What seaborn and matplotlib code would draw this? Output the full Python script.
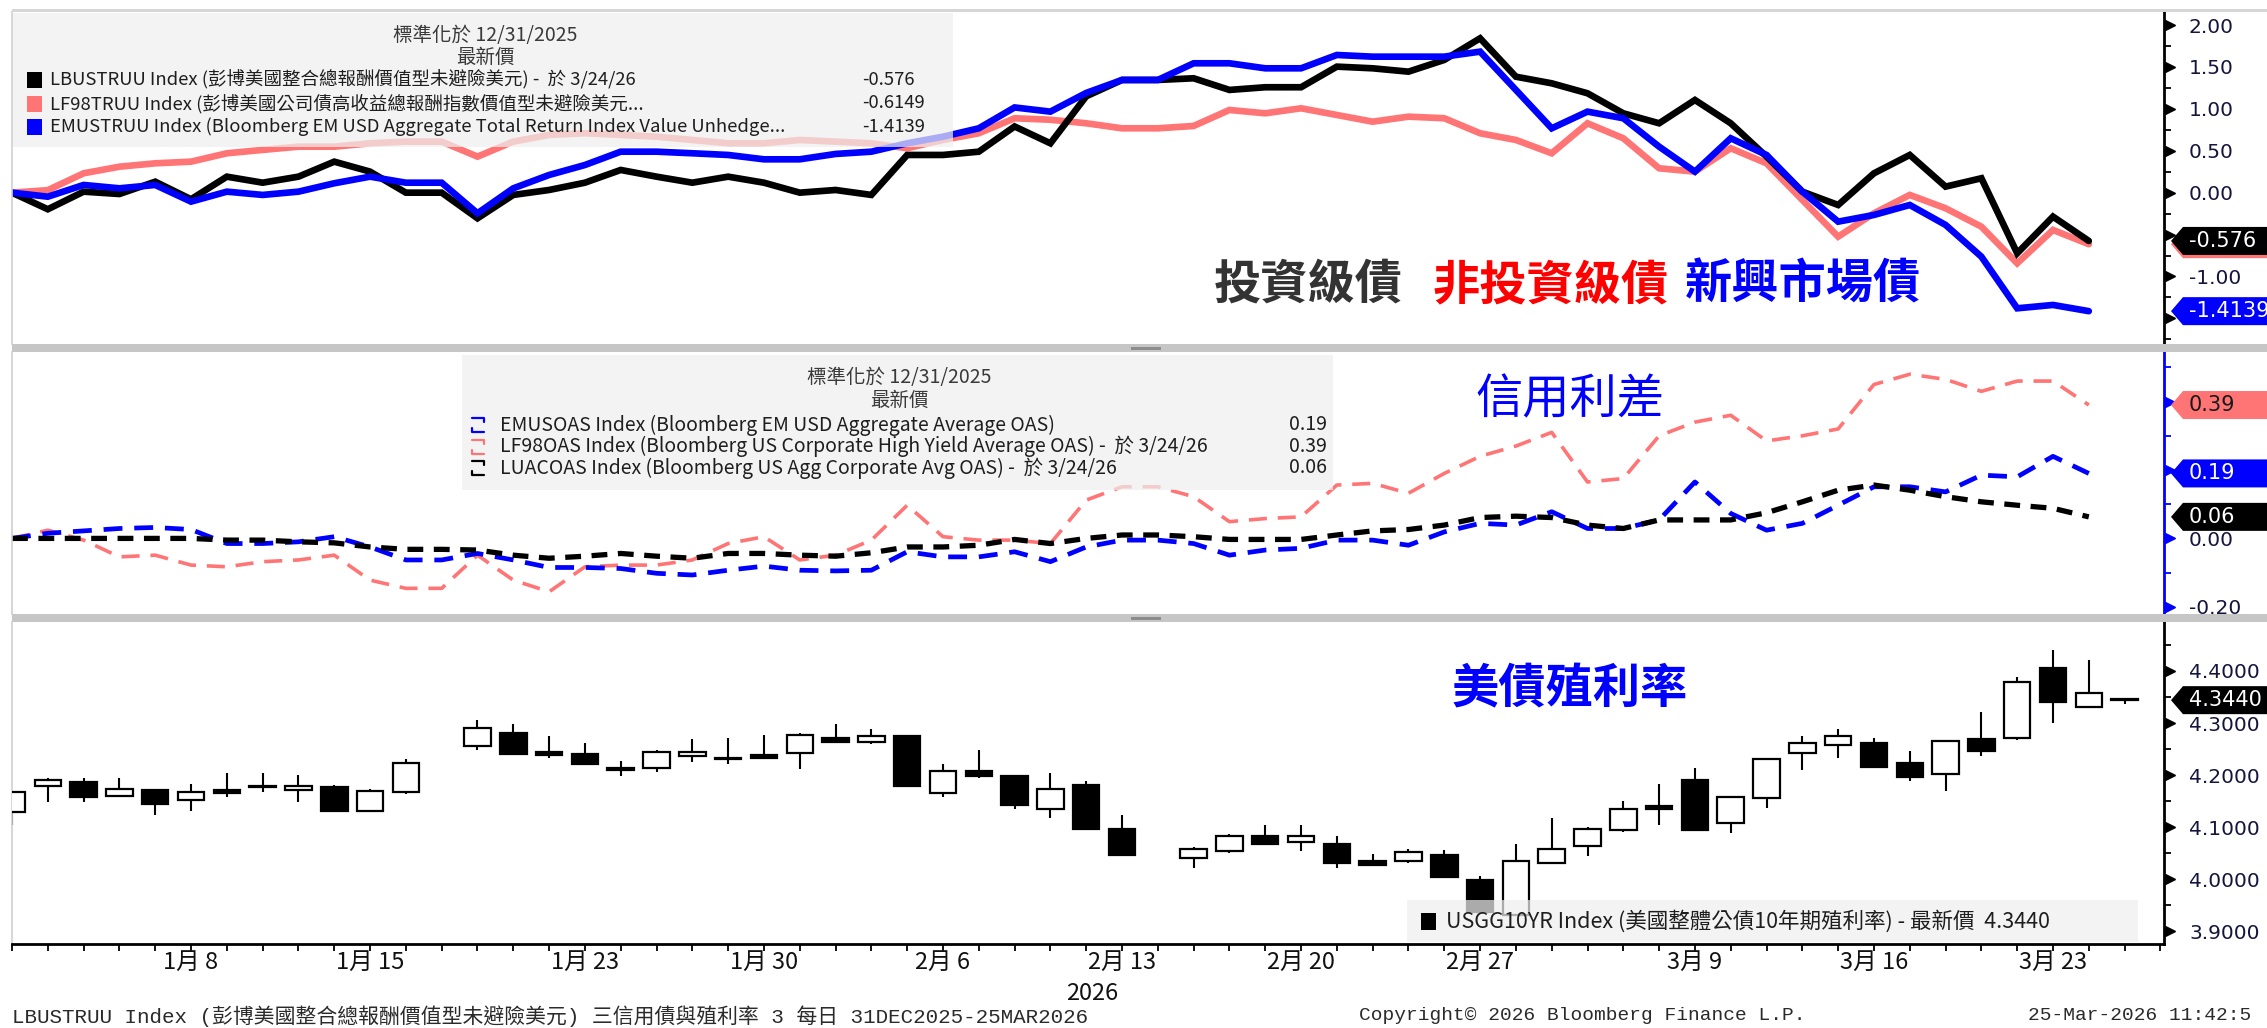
import numpy as np
import pandas as pd
import matplotlib
matplotlib.use('Agg')
import matplotlib.pyplot as plt
from matplotlib.patches import Rectangle, Polygon
from matplotlib.lines import Line2D
from matplotlib.ticker import MultipleLocator
import seaborn as sns

# 交易日序號：0 = 2025/12/31 ... 58 = 2026/3/24, 59 = 2026/3/25（假日 12、32 保留空位）
nan = np.nan

# 上圖：總報酬指數（標準化於 12/31/2025）
lbustruu = [0.0, -0.198, 0.012, -0.016, 0.131, -0.079, 0.191, 0.119, 0.191, 0.370,
            0.251, 0.0, 0.0, -0.306, -0.027, 0.032, 0.119, 0.271, 0.191, 0.119,
            0.191, 0.119, 0.0, 0.032, -0.027, 0.450, 0.450, 0.489, 0.79, 0.589,
            1.15, 1.345, 1.345, 1.365, 1.226, 1.258, 1.258, 1.504, 1.484, 1.444,
            1.584, 1.842, 1.384, 1.305, 1.186, 0.947, 0.828, 1.106, 0.828, 0.430,
            0.012, -0.147, 0.231, 0.450, 0.072, 0.172, -0.723, -0.286, -0.576]
lf98truu = [0.0, 0.03, 0.231, 0.310, 0.350, 0.370, 0.470, 0.510, 0.549, 0.549,
            0.589, 0.609, 0.609, 0.430, 0.609, 0.689, 0.709, 0.689, 0.668, 0.629,
            0.589, 0.589, 0.629, 0.609, 0.589, 0.530, 0.629, 0.709, 0.888, 0.87,
            0.828, 0.768, 0.768, 0.796, 0.987, 0.947, 1.007, 0.927, 0.847, 0.907,
            0.888, 0.709, 0.629, 0.470, 0.828, 0.649, 0.291, 0.251, 0.530, 0.350,
            -0.087, -0.525, -0.246, -0.027, -0.186, -0.406, -0.843, -0.445, -0.6149]
emustruu = [0.0, -0.048, 0.092, 0.052, 0.092, -0.107, 0.012, -0.027, 0.012, 0.112,
            0.191, 0.119, 0.119, -0.246, 0.052, 0.211, 0.330, 0.489, 0.489, 0.470,
            0.450, 0.398, 0.398, 0.462, 0.489, 0.589, 0.668, 0.768, 1.017, 0.967,
            1.19, 1.345, 1.345, 1.544, 1.544, 1.484, 1.484, 1.643, 1.623, 1.623,
            1.623, 1.683, 1.226, 0.768, 0.967, 0.888, 0.549, 0.251, 0.649, 0.450,
            0.012, -0.346, -0.266, -0.147, -0.385, -0.764, -1.380, -1.340, -1.4139]

# 中圖：OAS 利差（標準化於 12/31/2025）
emusoas = [0.0, 0.015, 0.022, 0.029, 0.032, 0.026, -0.015, -0.015, -0.010, 0.005,
           -0.025, -0.063, -0.063, -0.044, -0.063, -0.085, -0.085, -0.088, -0.102, -0.107,
           -0.093, -0.081, -0.093, -0.095, -0.093, -0.039, -0.054, -0.054, -0.039, -0.068,
           -0.025, -0.005, -0.005, -0.015, -0.049, -0.034, -0.029, -0.005, -0.005, -0.020,
           0.019, 0.044, 0.039, 0.078, 0.029, 0.029, 0.054, 0.165, 0.073, 0.024,
           0.044, 0.097, 0.151, 0.151, 0.136, 0.185, 0.180, 0.240, 0.19]
lf98oas = [0.0, 0.024, -0.005, -0.054, -0.049, -0.078, -0.083, -0.068, -0.063, -0.049,
           -0.122, -0.146, -0.146, -0.049, -0.122, -0.156, -0.083, -0.078, -0.078, -0.063,
           -0.015, 0.005, -0.063, -0.049, -0.005, 0.097, 0.005, -0.005, -0.005, -0.015,
           0.112, 0.151, 0.151, 0.122, 0.049, 0.058, 0.063, 0.156, 0.161, 0.132,
           0.190, 0.24, 0.27, 0.31, 0.165, 0.175, 0.30, 0.34, 0.36, 0.285,
           0.30, 0.32, 0.45, 0.48, 0.465, 0.43, 0.46, 0.46, 0.39]
luacoas = [0.0, 0.0, 0.0, 0.0, 0.0, 0.0, -0.005, -0.005, -0.010, -0.013,
           -0.025, -0.032, -0.032, -0.034, -0.049, -0.058, -0.052, -0.044, -0.052, -0.058,
           -0.044, -0.044, -0.049, -0.052, -0.042, -0.025, -0.025, -0.020, -0.003, -0.015,
           0.000, 0.010, 0.010, 0.005, -0.003, -0.003, -0.003, 0.010, 0.022, 0.026,
           0.039, 0.061, 0.065, 0.061, 0.039, 0.029, 0.054, 0.054, 0.054, 0.075,
           0.107, 0.141, 0.156, 0.141, 0.122, 0.107, 0.097, 0.088, 0.063]

# 下圖：美國 10 年期公債殖利率 日 K 線
y_open = [4.129, 4.180, 4.187, 4.160, 4.171, 4.152, 4.171, 4.177, 4.172, 4.178,
          4.132, 4.168, nan, 4.256, 4.281, 4.245, 4.241, 4.214, 4.213, 4.237,
          4.232, 4.238, 4.243, 4.272, 4.264, 4.275, 4.166, 4.208, 4.198, 4.135,
          4.181, 4.097, nan, 4.041, 4.054, 4.083, 4.072, 4.067, 4.036, 4.035,
          4.046, 3.999, 3.932, 4.031, 4.065, 4.094, 4.140, 4.190, 4.108, 4.156,
          4.243, 4.257, 4.261, 4.224, 4.203, 4.269, 4.271, 4.406, 4.331, 4.347]
y_high = [4.170, 4.195, 4.195, 4.195, 4.172, 4.184, 4.204, 4.204, 4.201, 4.181,
          4.174, 4.232, nan, 4.306, 4.299, 4.275, 4.261, 4.228, 4.249, 4.269,
          4.272, 4.278, 4.281, 4.299, 4.289, 4.278, 4.222, 4.249, 4.200, 4.204,
          4.188, 4.124, nan, 4.063, 4.087, 4.104, 4.104, 4.083, 4.049, 4.059,
          4.056, 4.006, 4.068, 4.118, 4.100, 4.150, 4.184, 4.214, 4.158, 4.232,
          4.275, 4.288, 4.271, 4.247, 4.268, 4.322, 4.388, 4.440, 4.422, 4.347]
y_low = [4.105, 4.149, 4.149, 4.158, 4.124, 4.131, 4.158, 4.168, 4.148, 4.131,
         4.131, 4.164, nan, 4.249, 4.240, 4.233, 4.222, 4.198, 4.206, 4.226,
         4.222, 4.233, 4.212, 4.263, 4.259, 4.180, 4.158, 4.195, 4.135, 4.118,
         4.097, 4.047, nan, 4.021, 4.051, 4.068, 4.054, 4.021, 4.025, 4.031,
         4.004, 3.938, 3.930, 4.031, 4.044, 4.091, 4.105, 4.094, 4.089, 4.137,
         4.209, 4.233, 4.216, 4.188, 4.169, 4.237, 4.267, 4.301, 4.331, 4.336]
y_close = [4.168, 4.190, 4.158, 4.174, 4.145, 4.167, 4.165, 4.178, 4.180, 4.132,
           4.169, 4.224, nan, 4.291, 4.240, 4.239, 4.222, 4.210, 4.245, 4.245,
           4.231, 4.233, 4.278, 4.263, 4.275, 4.180, 4.208, 4.199, 4.142, 4.174,
           4.097, 4.047, nan, 4.059, 4.083, 4.068, 4.083, 4.031, 4.027, 4.053,
           4.004, 3.938, 4.036, 4.059, 4.097, 4.136, 4.136, 4.094, 4.158, 4.231,
           4.261, 4.275, 4.216, 4.197, 4.265, 4.246, 4.379, 4.341, 4.358, 4.344]

xtick_slots = [5, 10, 16, 21, 26, 31, 36, 41, 47, 52, 57]
xtick_labels = ['1月 8', '1月 15', '1月 23', '1月 30', '2月 6', '2月 13',
                '2月 20', '2月 27', '3月 9', '3月 16', '3月 23']

PINK = '#FF7575'
BLUE = '#0000FF'
LABEL_C = '#14143c'

df_top = pd.DataFrame({'slot': range(len(lbustruu)), 'LBUSTRUU': lbustruu,
                       'LF98TRUU': lf98truu, 'EMUSTRUU': emustruu})
df_mid = pd.DataFrame({'slot': range(len(emusoas)), 'EMUSOAS': emusoas,
                       'LF98OAS': lf98oas, 'LUACOAS': luacoas})
df_k = pd.DataFrame({'slot': range(len(y_open)), 'open': y_open, 'high': y_high,
                     'low': y_low, 'close': y_close}).dropna()

sns.set_style('white')
plt.rcParams['font.family'] = ['DejaVu Sans', 'Noto Sans CJK TC']
CJK = ['Noto Sans CJK TC', 'DejaVu Sans']
MONO = ['Liberation Mono', 'Noto Sans CJK TC']

W, H = 2267, 1028
fig = plt.figure(figsize=(W / 100, H / 100), dpi=100)
fig.patch.set_facecolor('white')


def fx(px):
    return px / W


def fy(py):
    return 1 - py / H


def panel(top, bottom):
    return fig.add_axes([fx(12), fy(bottom), (2164 - 12) / W, (bottom - top) / H])


ax1 = panel(12, 344)
ax2 = panel(352, 614)
ax3 = panel(622, 944)

# --- 上圖 ---
sns.lineplot(data=df_top, x='slot', y='LF98TRUU', ax=ax1, color=PINK, linewidth=4.8)
sns.lineplot(data=df_top, x='slot', y='LBUSTRUU', ax=ax1, color='black', linewidth=4.8)
sns.lineplot(data=df_top, x='slot', y='EMUSTRUU', ax=ax1, color=BLUE, linewidth=4.8)
for ln in ax1.lines:
    ln.set_solid_joinstyle('miter')

# --- 中圖 ---
sns.lineplot(data=df_mid, x='slot', y='LF98OAS', ax=ax2, color=PINK, linewidth=2.6,
             linestyle=(0, (5, 3)))
sns.lineplot(data=df_mid, x='slot', y='EMUSOAS', ax=ax2, color=BLUE, linewidth=3.4,
             linestyle=(0, (4, 2.5)))
sns.lineplot(data=df_mid, x='slot', y='LUACOAS', ax=ax2, color='black', linewidth=3.8,
             linestyle=(0, (3, 2)))

# --- 下圖：K 線 ---
up = df_k['close'] >= df_k['open']
body_lo = np.minimum(df_k['open'], df_k['close'])
body_h = np.maximum((df_k['close'] - df_k['open']).abs(), 0.0015)
ax3.vlines(df_k['slot'], df_k['low'], df_k['high'], color='black', lw=1.5, zorder=2)
ax3.bar(df_k['slot'], body_h, bottom=body_lo, width=0.74,
        color=np.where(up, 'white', 'black'), edgecolor='black', linewidth=1.6, zorder=3)


def right_axis(ax, lim, majors, hidden, minor_step, fmt, color):
    ax.set_xlim(0, 60.1)
    ax.set_ylim(*lim)
    ax.yaxis.tick_right()
    ax.set_yticks(majors)
    ax.set_yticklabels(['' if v in hidden else fmt.format(v) for v in majors])
    ax.yaxis.set_minor_locator(MultipleLocator(minor_step))
    ax.tick_params(axis='y', which='major', length=0, pad=18, labelsize=14.5,
                   labelcolor=LABEL_C)
    ax.tick_params(axis='y', which='minor', right=True, length=5, width=1.3,
                   color=color, direction='out')
    ax.plot([1.0028] * len(majors), majors, ls='none', marker='>', ms=7,
            color=color, transform=ax.get_yaxis_transform(), clip_on=False)
    ax.set_ylim(*lim)
    ax.set_xlabel('')
    ax.set_ylabel('')
    for s in ['top', 'bottom']:
        ax.spines[s].set_visible(False)
    ax.spines['left'].set_color('#D0D0D0')
    ax.spines['left'].set_linewidth(1.2)
    ax.spines['right'].set_color(color)
    ax.spines['right'].set_linewidth(2)
    ax.tick_params(axis='x', which='both', bottom=False, labelbottom=False)


# 被數值標籤蓋住的刻度文字不顯示
right_axis(ax1, (-1.806, 2.156), [-1.5, -1.0, -0.5, 0.0, 0.5, 1.0, 1.5, 2.0], [-1.5, -0.5],
           0.25, '{:.2f}', 'black')
right_axis(ax2, (-0.221, 0.545), [-0.2, 0.0, 0.2, 0.4], [0.2, 0.4], 0.1, '{:.2f}', BLUE)
right_axis(ax3, (3.876, 4.494), [3.9, 4.0, 4.1, 4.2, 4.3, 4.4], [], 0.05, '{:.4f}', 'black')

ax3.spines['bottom'].set_visible(True)
ax3.spines['bottom'].set_color('black')
ax3.spines['bottom'].set_linewidth(2)
ax3.set_xticks(xtick_slots)
ax3.set_xticklabels(xtick_labels, fontfamily=CJK, fontsize=17, color='#111111')
ax3.set_xticks(range(61), minor=True)
ax3.tick_params(axis='x', which='both', bottom=True, labelbottom=True, direction='out',
                length=5, width=1.3, color='black', pad=0)

# 面板分隔條
for y0, y1 in [(344, 352), (614, 622)]:
    fig.add_artist(Rectangle((fx(12), fy(y1)), 1 - fx(12), (y1 - y0) / H,
                             transform=fig.transFigure, facecolor='#C6C6C6',
                             edgecolor='none', zorder=4))
    fig.add_artist(Rectangle((fx(1131), fy(y0 + 5.5)), 30 / W, 2.5 / H,
                             transform=fig.transFigure, facecolor='#8C8C8C',
                             edgecolor='none', zorder=4))
fig.add_artist(Rectangle((fx(12), fy(12)), 1 - fx(12), 3 / H, transform=fig.transFigure,
                         facecolor='#D6D6D6', edgecolor='none', zorder=4))


def value_tag(ax, v, face, label, tcolor):
    y = fig.transFigure.inverted().transform(ax.transData.transform((0, v)))[1]
    h = 14 / H
    pts = [(fx(2171), y), (fx(2183), y + h), (1.01, y + h), (1.01, y - h), (fx(2183), y - h)]
    fig.add_artist(Polygon(pts, closed=True, transform=fig.transFigure, facecolor=face,
                           edgecolor='none', zorder=5))
    if label:
        fig.text(fx(2189), y, label, color=tcolor, fontsize=15, ha='left', va='center',
                 zorder=6)


value_tag(ax1, lf98truu[-1], PINK, '', 'black')
value_tag(ax1, lbustruu[-1], 'black', '-0.576', 'white')
value_tag(ax1, emustruu[-1], BLUE, '-1.4139', 'white')
value_tag(ax2, lf98oas[-1], PINK, '0.39', '#1a1a1a')
value_tag(ax2, emusoas[-1], BLUE, '0.19', 'white')
value_tag(ax2, luacoas[-1], 'black', '0.06', 'white')
value_tag(ax3, y_close[-1], 'black', '4.3440', 'white')


def legend_box(x0, y0, x1, y1):
    fig.add_artist(Rectangle((fx(x0), fy(y1)), (x1 - x0) / W, (y1 - y0) / H,
                             transform=fig.transFigure, facecolor='#EFEFEF',
                             edgecolor='none', alpha=0.72, zorder=2))


def ftext(x, y, s, **kw):
    kw.setdefault('fontsize', 14)
    kw.setdefault('family', CJK)
    kw.setdefault('color', '#1e1e1e')
    kw.setdefault('va', 'center')
    fig.text(fx(x), fy(y), s, zorder=3, **kw)


# 上圖圖例
legend_box(13, 13, 953, 147)
ftext(485, 35, '標準化於 12/31/2025', ha='center', color='#3a3a3a')
ftext(485, 57, '最新價', ha='center', color='#3a3a3a')
top_rows = [('LBUSTRUU Index (彭博美國整合總報酬價值型未避險美元) -  於 3/24/26', '-0.576', 'black'),
            ('LF98TRUU Index (彭博美國公司債高收益總報酬指數價值型未避險美元...', '-0.6149', PINK),
            ('EMUSTRUU Index (Bloomberg EM USD Aggregate Total Return Index Value Unhedge...', '-1.4139', BLUE)]
for k, (name, val, c) in enumerate(top_rows):
    yc = 80 + k * 23.5
    fig.add_artist(Rectangle((fx(27), fy(yc + 8)), 15 / W, 16 / H, transform=fig.transFigure,
                             facecolor=c, edgecolor='none', zorder=3))
    ftext(50, yc, name, ha='left', fontsize=13.3)
    ftext(862, yc, val, ha='left', fontsize=13.3)

# 中圖圖例
legend_box(462, 355, 1333, 490)
ftext(899, 378, '標準化於 12/31/2025', ha='center', color='#3a3a3a')
ftext(899, 400, '最新價', ha='center', color='#3a3a3a')
mid_rows = [('EMUSOAS Index (Bloomberg EM USD Aggregate Average OAS)', '0.19', BLUE),
            ('LF98OAS Index (Bloomberg US Corporate High Yield Average OAS) -  於 3/24/26', '0.39', PINK),
            ('LUACOAS Index (Bloomberg US Agg Corporate Avg OAS) -  於 3/24/26', '0.06', 'black')]
for k, (name, val, c) in enumerate(mid_rows):
    yc = 425 + k * 21.5
    x0, x1 = 472, 484
    fig.add_artist(Line2D([fx(x0), fx(x1), fx(x1)], [fy(yc - 7), fy(yc - 7), fy(yc - 3)],
                          transform=fig.transFigure, color=c, lw=1.6, zorder=3))
    fig.add_artist(Line2D([fx(x0), fx(x0), fx(x1)], [fy(yc + 3), fy(yc + 7), fy(yc + 7)],
                          transform=fig.transFigure, color=c, lw=1.6, zorder=3))
    ftext(500, yc, name, ha='left')
    ftext(1327, yc, val, ha='right')

# 下圖圖例
legend_box(1407, 900, 2138, 942)
fig.add_artist(Rectangle((fx(1421), fy(930)), 15 / W, 17 / H, transform=fig.transFigure,
                         facecolor='black', edgecolor='none', zorder=3))
ftext(1446, 921, 'USGG10YR Index (美國整體公債10年期殖利率) - 最新價  4.3440', ha='left',
      fontsize=15.5)

# 標題文字
ftext(1214, 285, '投資級債', fontsize=34, fontweight='bold', color='#333333', ha='left')
ftext(1433, 285, '非投資級債', fontsize=34, fontweight='bold', color='#FF0000', ha='left')
ftext(1685, 285, '新興市場債', fontsize=34, fontweight='bold', color=BLUE, ha='left')
ftext(1475, 400, '信用利差', fontsize=34, fontweight='medium', color=BLUE, ha='left')
ftext(1452, 689, '美債殖利率', fontsize=34, fontweight='bold', color=BLUE, ha='left')

# 底部
ftext(1092, 993, '2026', fontsize=17, ha='center', color='#111111')
ftext(12, 1016, 'LBUSTRUU Index (彭博美國整合總報酬價值型未避險美元) 三信用債與殖利率 3 每日 31DEC2025-25MAR2026',
      fontsize=15, family=MONO, ha='left', color='#2a2a2a')
ftext(1359, 1016, 'Copyright© 2026 Bloomberg Finance L.P.', fontsize=14, family=MONO,
      ha='left', color='#2a2a2a')
ftext(2028, 1016, '25-Mar-2026 11:42:5', fontsize=14, family=MONO, ha='left', color='#2a2a2a')

fig.savefig('out.png', dpi=100)
